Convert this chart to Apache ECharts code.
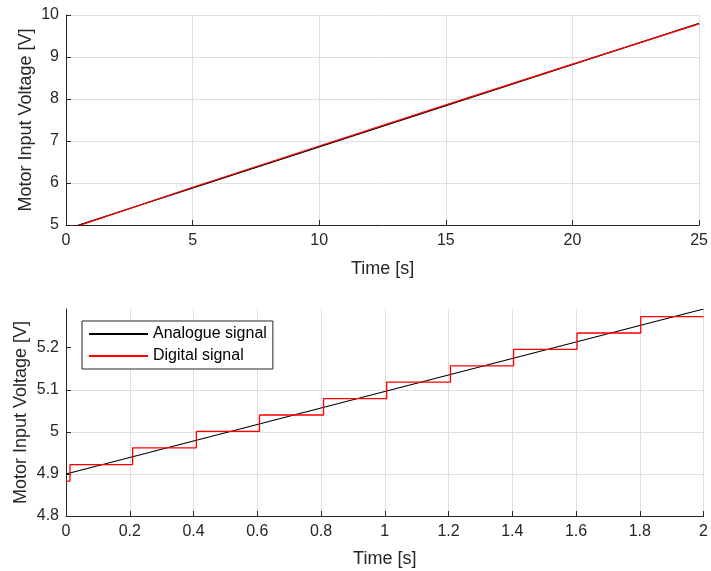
<!DOCTYPE html>
<html>
<head>
<meta charset="utf-8">
<script src="https://cdn.jsdelivr.net/npm/echarts@6/dist/echarts.min.js"></script>
<style>
  html, body { margin: 0; padding: 0; background: #fff; }
  #chart { width: 711px; height: 571px; }
</style>
</head>
<body>
<div id="chart"></div>
<script>
// Motor input voltage: analogue ramp and its sampled (digital) version

// Full run, 0-25 s
const fullAnalogTime = [0, 25];
const fullAnalogVolt = [4.9, 9.8];
const fullDigitalTime = [0, 5, 10, 15, 20, 25];
const fullDigitalVolt = [4.88, 5.9, 6.88, 7.86, 8.83, 9.79];

// First two seconds, showing the sample-and-hold steps
const zoomAnalogTime = [0, 2];
const zoomAnalogVolt = [4.9, 5.292];
const zoomDigitalTime = [0, 0.0125, 0.209, 0.409, 0.607, 0.808, 1.006, 1.206, 1.404, 1.603, 1.803, 2.0];
const zoomDigitalVolt = [4.883, 4.922, 4.962, 5.001, 5.040, 5.079, 5.118, 5.157, 5.196, 5.235, 5.274, 5.274];

// Tick labels
const fullXTicks = [0, 5, 10, 15, 20, 25];
const fullYTicks = [5, 6, 7, 8, 9, 10];
const zoomXTicks = [0, 0.2, 0.4, 0.6, 0.8, 1, 1.2, 1.4, 1.6, 1.8, 2];
const zoomYTicks = [4.8, 4.9, 5, 5.1, 5.2];

const seriesNames = ['Analogue signal', 'Digital signal'];
const xTitle = 'Time [s]';
const yTitle = 'Motor Input Voltage [V]';

const FONT = '"Liberation Sans", Arial, Helvetica, sans-serif';
const INK = '#262626';
const GRID = '#dfdfdf';

const pairs = (xs, ys) => xs.map((x, i) => [x, ys[i]]);

function valueAxis(gridIndex, extra) {
  return Object.assign({
    type: 'value',
    gridIndex: gridIndex,
    axisLine: { show: true, onZero: false, lineStyle: { color: INK, width: 1 } },
    axisTick: { show: true, inside: true, length: 5, lineStyle: { color: INK, width: 1 } },
    axisLabel: { color: INK, fontFamily: FONT, fontSize: 16, margin: 7 },
    splitLine: { show: true, lineStyle: { color: GRID, width: 1 } },
    nameLocation: 'middle',
    nameMoveOverlap: false,
    nameTextStyle: { color: INK, fontFamily: FONT, fontSize: 18 }
  }, extra);
}

const chart = echarts.init(document.getElementById('chart'), null, { renderer: 'canvas' });

chart.setOption({
  animation: false,
  backgroundColor: '#ffffff',
  textStyle: { fontFamily: FONT },
  grid: [
    { left: 66, top: 15, width: 638, height: 210 },
    { left: 66, top: 309, width: 638, height: 207 }
  ],
  legend: {
    data: seriesNames,
    left: 82,
    top: 321,
    orient: 'vertical',
    itemWidth: 59,
    itemHeight: 14,
    itemGap: 6,
    padding: [5, 6, 5, 6],
    backgroundColor: '#ffffff',
    borderColor: INK,
    borderWidth: 1,
    borderRadius: 0,
    itemStyle: { opacity: 0 },
    textStyle: { color: '#000', fontFamily: FONT, fontSize: 16 }
  },
  xAxis: [
    valueAxis(0, {
      min: fullXTicks[0], max: fullXTicks[fullXTicks.length - 1], interval: 5,
      name: xTitle, nameGap: 35,
      axisLabel: { color: INK, fontFamily: FONT, fontSize: 16, margin: 8 }
    }),
    valueAxis(1, {
      min: zoomXTicks[0], max: zoomXTicks[zoomXTicks.length - 1], interval: 0.2,
      name: xTitle, nameGap: 34,
      axisLabel: { color: INK, fontFamily: FONT, fontSize: 16, margin: 8 }
    })
  ],
  yAxis: [
    valueAxis(0, {
      min: fullYTicks[0], max: fullYTicks[fullYTicks.length - 1], interval: 1,
      name: yTitle, nameGap: 31
    }),
    valueAxis(1, {
      min: zoomYTicks[0], max: zoomAnalogVolt[1], interval: 0.1,
      name: yTitle, nameGap: 36,
      axisLabel: { color: INK, fontFamily: FONT, fontSize: 16, margin: 7, customValues: zoomYTicks },
      axisTick: { show: true, inside: true, length: 5, lineStyle: { color: INK, width: 1 }, customValues: zoomYTicks },
      splitLine: { show: true, showMaxLine: false, lineStyle: { color: GRID, width: 1 } }
    })
  ],
  series: [
    {
      name: seriesNames[0], type: 'line', xAxisIndex: 0, yAxisIndex: 0,
      data: pairs(fullAnalogTime, fullAnalogVolt),
      showSymbol: false, symbol: 'none', clip: true,
      lineStyle: { color: '#000000', width: 1.2 }, itemStyle: { color: '#000000' }
    },
    {
      name: seriesNames[1], type: 'line', xAxisIndex: 0, yAxisIndex: 0,
      data: pairs(fullDigitalTime, fullDigitalVolt),
      showSymbol: false, symbol: 'none', clip: true,
      lineStyle: { color: '#ff0000', width: 1.2 }, itemStyle: { color: '#ff0000' }
    },
    {
      name: seriesNames[0], type: 'line', xAxisIndex: 1, yAxisIndex: 1,
      data: pairs(zoomAnalogTime, zoomAnalogVolt),
      showSymbol: false, symbol: 'none', clip: true,
      lineStyle: { color: '#000000', width: 1.1 }, itemStyle: { color: '#000000' }
    },
    {
      name: seriesNames[1], type: 'line', xAxisIndex: 1, yAxisIndex: 1,
      data: pairs(zoomDigitalTime, zoomDigitalVolt),
      step: 'end',
      showSymbol: false, symbol: 'none', clip: true,
      lineStyle: { color: '#ff0000', width: 1.3 }, itemStyle: { color: '#ff0000' }
    }
  ]
});
</script>
</body>
</html>
